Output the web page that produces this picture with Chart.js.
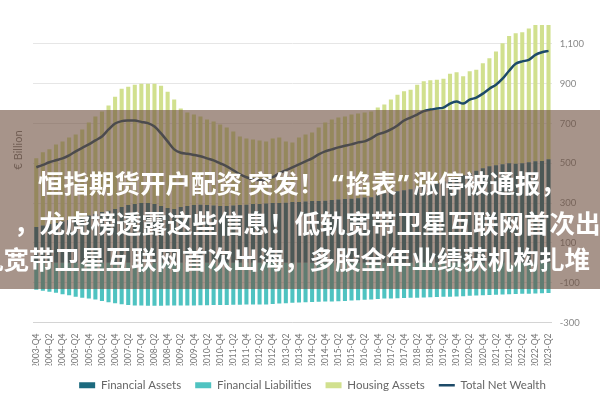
<!DOCTYPE html>
<html lang="zh-CN">
<head>
<meta charset="utf-8">
<script src="https://cdn.jsdelivr.net/npm/chart.js@4.4.1/dist/chart.umd.min.js"></script>
<style>
  html, body { margin: 0; padding: 0; background: #fff; }
  #wrap { position: relative; width: 600px; height: 400px; overflow: hidden; }
  #band { position: absolute; left: 0; top: 110px; width: 600px; height: 179px; background: rgba(108, 77, 60, 0.6); }
  .line { position: absolute; white-space: nowrap; color: #fff; font-family: "Noto Sans CJK SC", sans-serif;
          font-weight: 700; font-size: 25.5px; line-height: 30px; }
  .q { font-family: "Noto Sans", sans-serif; }
</style>
</head>
<body>
<div id="wrap">
  <canvas id="wealthChart" width="600" height="400"></canvas>
  <div id="band"></div>
  <div class="line" style="left:38px; top:167px;">恒指期货开户配资 突发！<span class="q" style="margin:0 2px 0 8px">“</span>掐表<span class="q" style="margin:0 4px 0 1px">”</span>涨停被通报，</div>
  <div class="line" style="left:14px; top:207px;">，龙虎榜透露这些信息！低轨宽带卫星互联网首次出</div>
  <div class="line" style="left:-22px; top:243px;">轨宽带卫星互联网首次出海，多股全年业绩获机构扎堆</div>
</div>
<script>
// quarters 2003-Q4 .. 2023-Q2
const quarters = [];
for (let y = 2003; y <= 2023; y++) {
  for (let q = 1; q <= 4; q++) {
    if ((y === 2003 && q < 4) || (y === 2023 && q > 2)) continue;
    quarters.push(y + '-Q' + q);
  }
}

const financialAssets = [
  180,188,195,200,208,215,222,230,238,245,
  255,262,270,280,290,295,300,300,295,285,
  275,270,280,285,290,292,290,288,285,285,
  288,290,292,295,295,298,300,300,302,305,
  305,308,310,310,312,315,318,320,322,325,
  328,330,340,350,355,360,365,370,378,385,
  392,400,410,420,430,440,450,462,475,485,
  490,495,500,498,500,505,510,512,520
];

const financialLiabilities = [
  -135,-140,-145,-150,-158,-163,-170,-175,-180,-185,
  -192,-198,-203,-208,-212,-214,-215,-216,-216,-216,
  -215,-215,-214,-214,-214,-213,-213,-212,-212,-212,
  -211,-211,-210,-210,-210,-209,-207,-205,-203,-201,
  -200,-198,-197,-196,-195,-194,-193,-192,-190,-188,
  -186,-184,-182,-180,-179,-178,-177,-176,-175,-174,
  -173,-172,-171,-170,-169,-168,-166,-164,-163,-162,
  -160,-159,-158,-157,-156,-155,-154,-153,-152
];

const housingAssets = [
  345,367,375,395,402,415,423,440,467,490,
  505,528,565,595,595,600,600,600,605,605,
  585,550,495,470,455,443,430,422,410,395,
  372,345,333,325,320,312,325,330,308,300,
  325,337,345,370,393,405,412,415,423,425,
  427,430,440,445,465,485,497,500,517,527,
  525,520,515,530,527,497,512,508,528,543,
  572,608,640,655,658,673,685,683,675
];

const totalNetWealth = [
  480,492,505,515,525,540,560,578,595,615,
  635,670,700,712,715,715,708,702,685,650,
  610,570,553,548,542,535,525,515,500,485,
  465,445,430,420,415,418,430,450,465,480,
  495,510,525,545,560,570,580,588,595,605,
  610,625,645,655,670,690,715,730,745,762,
  770,775,780,800,810,800,820,830,850,875,
  895,925,965,1000,1012,1020,1045,1058,1065
];

const yTicks = [-300, -100, 100, 300, 500, 700, 900, 1100];

// y axis title on the left
const sideTitle = {
  id: 'sideTitle',
  afterDraw(chart) {
    const c = chart.ctx;
    c.save();
    c.translate(18, 150);
    c.rotate(-Math.PI / 2);
    c.font = '11px Lato';
    c.fillStyle = '#777';
    c.textAlign = 'center';
    c.textBaseline = 'middle';
    c.fillText('€ Billion', 0, 0);
    c.restore();
  }
};

const ctx = document.getElementById('wealthChart').getContext('2d');
new Chart(ctx, {
  type: 'bar',
  data: {
    labels: quarters,
    datasets: [
      {
        label: 'Financial Assets',
        data: financialAssets,
        backgroundColor: '#1c6a7e',
        stack: 'bars',
        order: 1,
        pointStyle: 'rect',
        barPercentage: 0.62,
        categoryPercentage: 1.0
      },
      {
        label: 'Financial Liabilities',
        data: financialLiabilities,
        backgroundColor: '#4fc3c1',
        stack: 'bars',
        order: 1,
        pointStyle: 'rect',
        barPercentage: 0.62,
        categoryPercentage: 1.0
      },
      {
        label: 'Housing Assets',
        data: housingAssets,
        backgroundColor: '#d1e08e',
        stack: 'bars',
        order: 1,
        pointStyle: 'rect',
        barPercentage: 0.62,
        categoryPercentage: 1.0
      },
      {
        type: 'line',
        label: 'Total Net Wealth',
        data: totalNetWealth,
        borderColor: '#1d4a68',
        backgroundColor: '#1d4a68',
        borderWidth: 2.5,
        pointRadius: 0,
        pointStyle: 'line',
        tension: 0.3,
        stack: 'line',
        order: 0
      }
    ]
  },
  options: {
    responsive: false,
    animation: false,
    layout: { padding: { left: 33, right: 8, top: 24, bottom: -1 } },
    scales: {
      x: {
        stacked: true,
        grid: { display: false },
        border: { color: '#d4d4d4' },
        afterFit: function (scale) { scale.height = 43; },
        ticks: {
          autoSkip: false,
          maxRotation: 90,
          minRotation: 90,
          padding: 3,
          color: '#777',
          font: { family: 'Lato', size: 8.5 },
          callback: function (val, i) { return i % 2 === 0 ? quarters[i] : ''; }
        }
      },
      y: {
        stacked: true,
        position: 'right',
        min: -300,
        max: 1200,
        afterBuildTicks: function (scale) {
          scale.ticks = yTicks.map(v => ({ value: v }));
        },
        grid: { color: '#e6e6e6', drawTicks: false },
        border: { display: false },
        ticks: {
          padding: 8,
          color: '#888',
          font: { family: 'Lato', size: 9.5 },
          callback: function (v) { return Number(v).toLocaleString('en-US'); }
        }
      }
    },
    plugins: {
      legend: {
        position: 'bottom',
        labels: {
          usePointStyle: true,
          pointStyleWidth: 16,
          boxHeight: 6,
          padding: 14,
          color: '#666',
          font: { family: 'Lato', size: 11.5 },
          sort: (a, b) => a.datasetIndex - b.datasetIndex
        }
      },
      tooltip: { enabled: false }
    }
  },
  plugins: [sideTitle]
});
</script>
</body>
</html>
